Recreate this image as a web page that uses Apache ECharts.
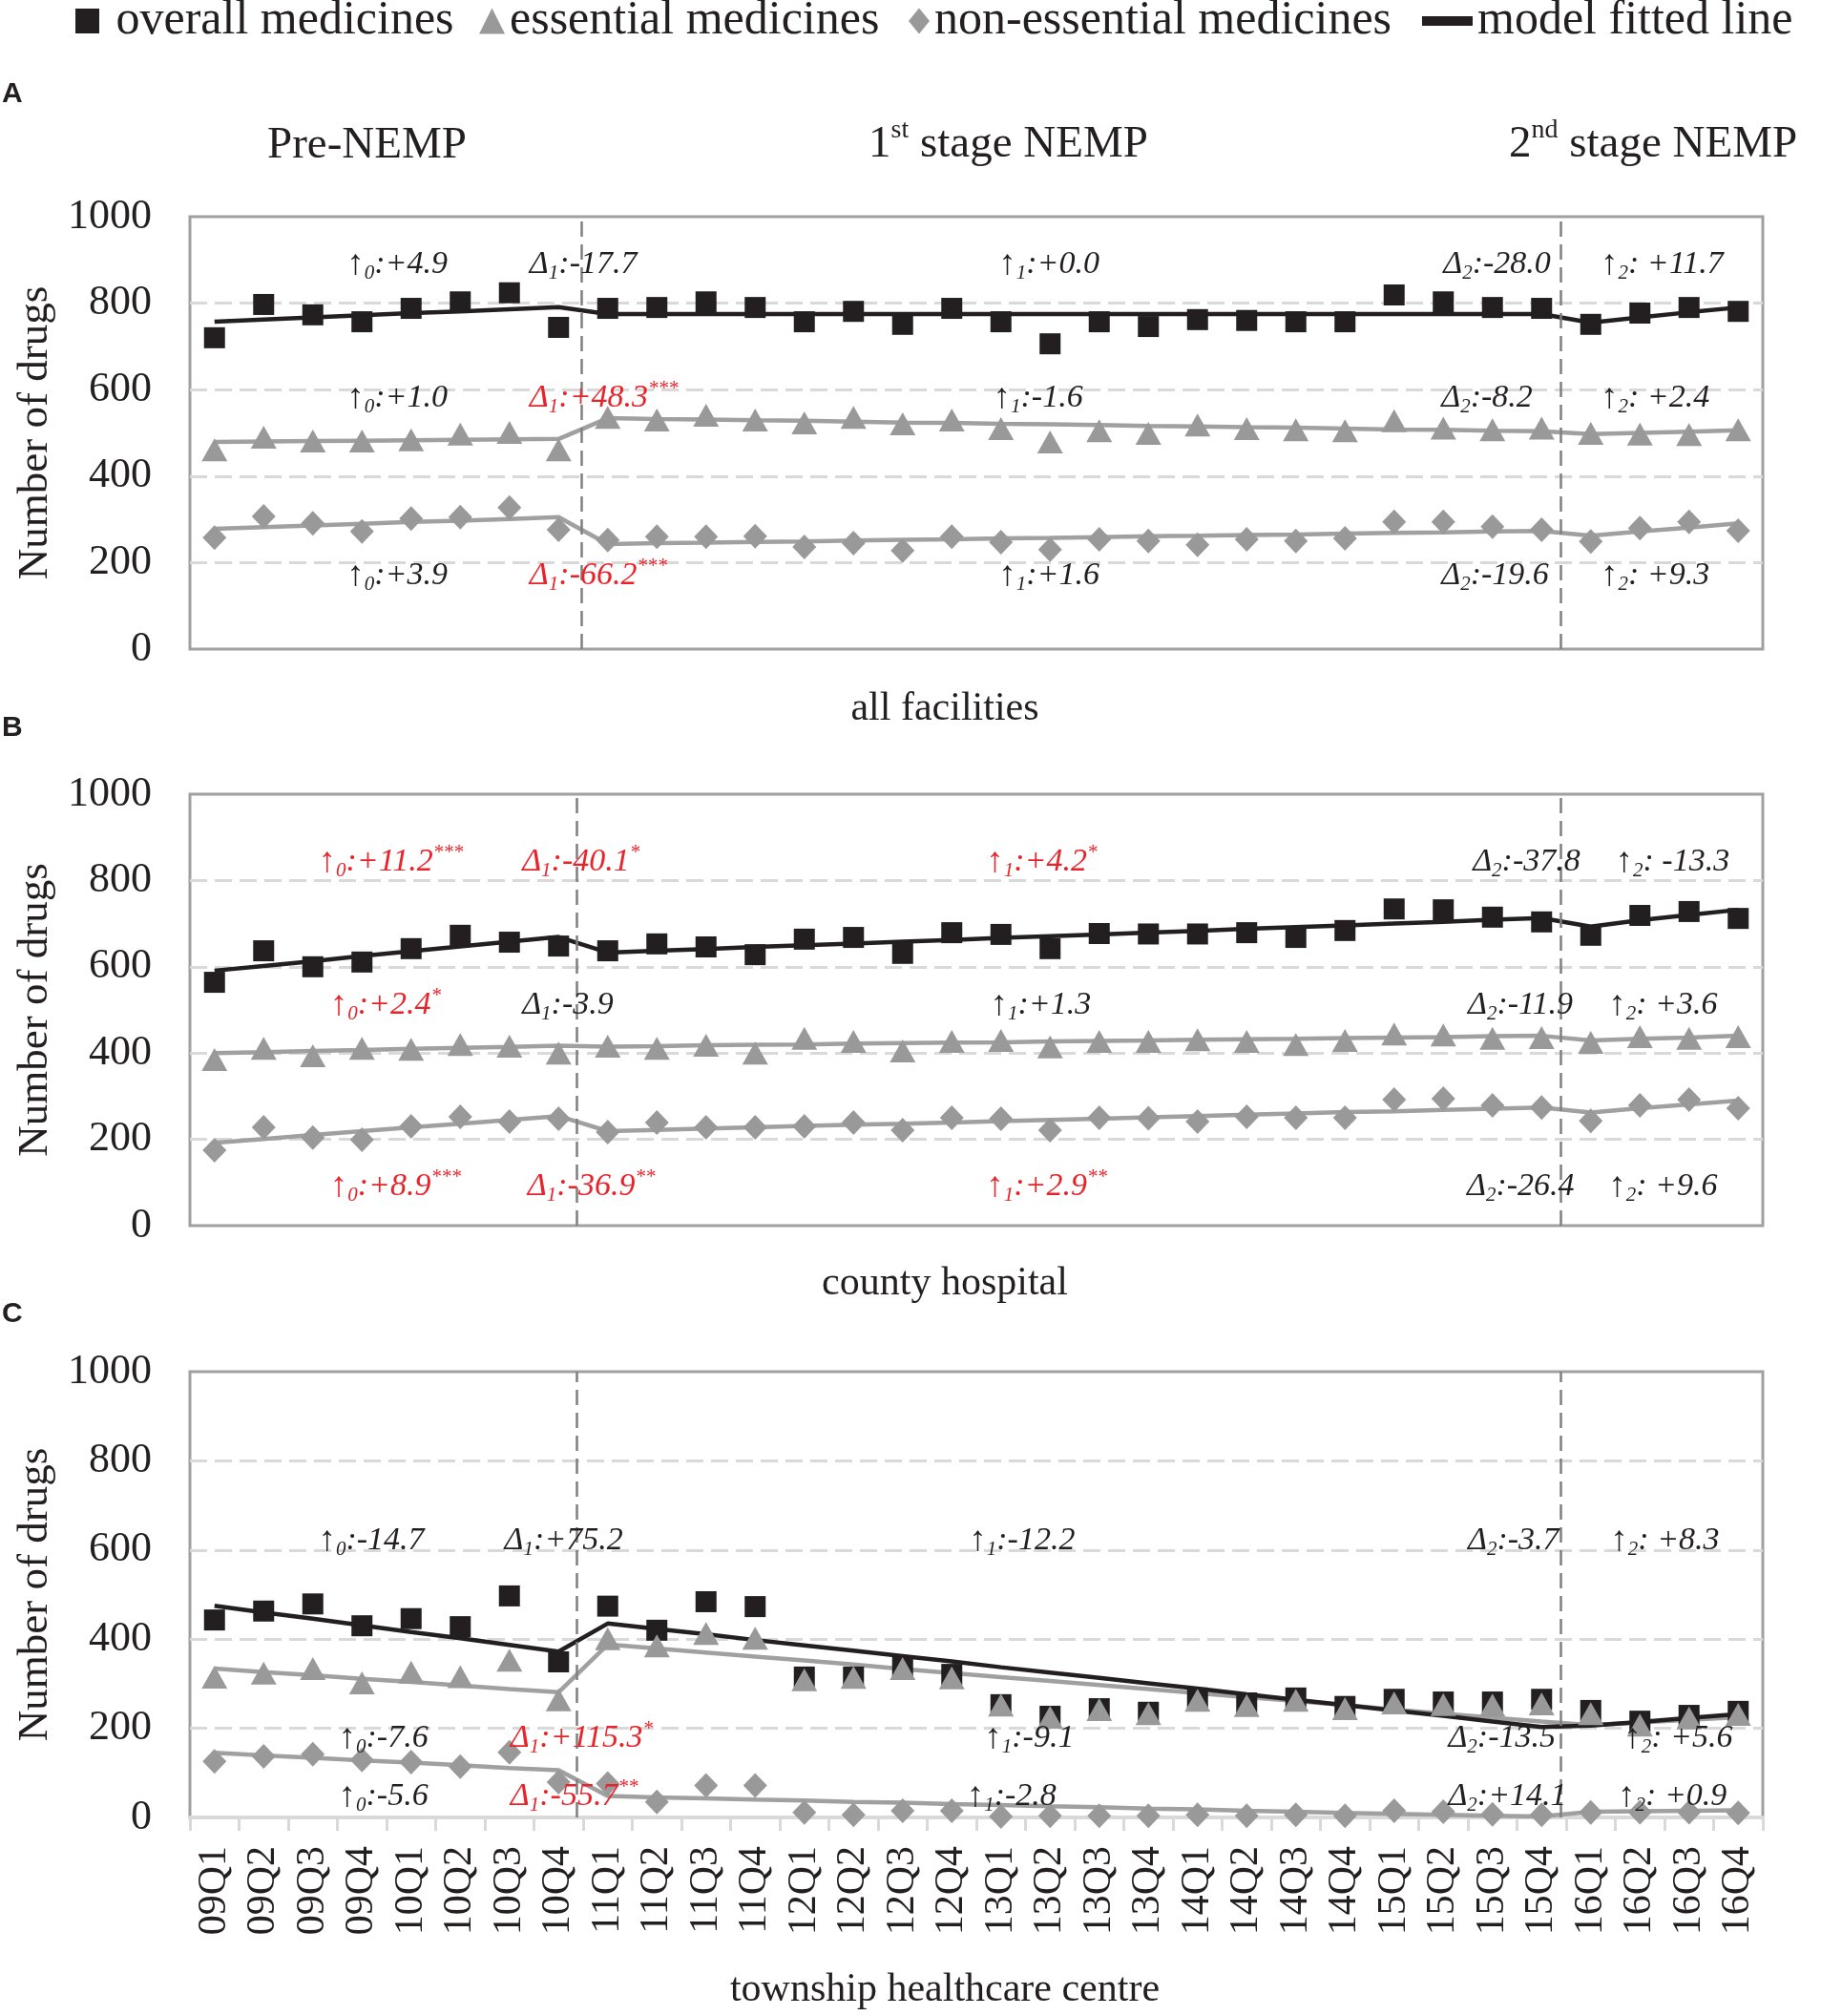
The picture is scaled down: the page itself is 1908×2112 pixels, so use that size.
<!DOCTYPE html>
<html>
<head>
<meta charset="utf-8">
<style>
html,body{margin:0;padding:0;background:#fff;}
#chart{width:1908px;height:2112px;}
</style>
<script src="https://cdn.jsdelivr.net/npm/echarts@6/dist/echarts.min.js"></script>
</head>
<body>
<div id="chart"></div>
<script>
// ---------- data ----------
const quarters = ['09Q1','09Q2','09Q3','09Q4','10Q1','10Q2','10Q3','10Q4',
  '11Q1','11Q2','11Q3','11Q4','12Q1','12Q2','12Q3','12Q4',
  '13Q1','13Q2','13Q3','13Q4','14Q1','14Q2','14Q3','14Q4',
  '15Q1','15Q2','15Q3','15Q4','16Q1','16Q2','16Q3','16Q4'];

// A: all facilities
const A_overall = [720,797,773,757,788,803,824,744, 788,790,803,790,757,781,751,788, 757,706,757,746,762,760,757,757, 819,803,790,788, 751,777,790,781];
const A_ess     = [461,490,481,481,484,497,501,461, 536,530,541,530,523,536,521,530, 510,479,505,499,518,510,507,505, 528,511,507,511, 499,497,496,507];
const A_non     = [258,307,291,272,302,305,327,276, 252,260,260,261,236,245,228,260, 247,230,254,250,241,254,250,256, 294,294,283,276, 249,280,294,274];
const A_fitO    = [757,762,767,772,777,781,786,791, 775,775,775,775,775,775,775,775,775,775,775,775,775,775,775,775,775,775,775,775, 755,767,779,790];
const A_fitE    = [479,480,481,482,483,484,485,486, 534,532,531,529,528,526,524,523,521,520,518,516,515,513,512,510,508,507,505,504, 497,500,503,506];
const A_fitN    = [278,282,286,290,294,297,301,305, 243,245,246,248,249,251,253,254,256,257,259,261,262,264,265,267,269,270,272,273, 262,272,281,291];

// B: county hospital
const B_overall = [564,637,600,611,642,673,657,648, 637,653,646,628,664,668,631,679, 675,642,677,676,676,679,668,684, 734,732,715,704, 673,719,728,712];
const B_ess     = [385,411,394,411,409,420,416,400, 416,411,418,400,434,427,405,427, 429,414,427,427,431,427,420,429, 444,442,434,436, 425,438,434,438];
const B_non     = [175,228,204,199,230,252,241,248, 217,239,228,228,230,239,221,250, 248,221,250,249,241,252,250,250, 292,294,279,274, 243,279,292,272];
const B_fitO    = [591,602,613,625,636,647,658,669, 633,637,641,646,650,654,658,662,667,671,675,679,683,688,692,696,700,704,709,713, 693,708,720,732];
const B_fitE    = [400,402,405,407,410,412,414,417, 415,416,418,419,420,422,423,424,425,427,428,429,431,432,433,435,436,437,439,440, 429,433,436,440];
const B_fitN    = [192,201,210,219,228,236,245,254, 219,222,225,228,231,234,236,239,242,245,248,251,254,257,260,263,265,268,271,274, 262,272,281,290];

// C: township healthcare centre
const C_overall = [443,463,479,430,446,428,497,349, 474,420,484,473,315,315,338,321, 253,227,244,236,268,257,268,249, 265,259,259,265, 240,216,229,238];
const C_ess     = [315,324,334,302,326,316,353,264, 401,385,413,402,309,314,334,313, 252,225,242,233,263,251,263,244, 257,253,252,255, 233,207,223,231];
const C_non     = [126,137,142,129,124,114,146,79, 76,35,72,72,11,6,15,15, 2,4,4,4,6,4,6,4, 15,13,7,6, 11,12,12,10];
const C_fitO    = [475,460,446,431,416,402,387,372, 435,423,411,398,386,374,362,350,337,325,313,301,289,276,264,252,240,228,215,203, 206,214,223,232];
const C_fitE    = [334,326,319,311,304,296,288,281, 388,379,370,361,352,343,333,324,315,306,297,288,279,270,261,252,242,233,224,215, 207,213,219,225];
const C_fitN    = [145,139,134,128,123,117,111,106, 48,45,43,40,38,35,33,30,28,25,23,20,18,15,13,10,8,6,4,2, 13,14,15,16];

const yTicks = [0,200,400,600,800,1000];
const panelTitles = ['all facilities','county hospital','township healthcare centre'];
const panelLetters = ['A','B','C'];
const legendNames = ['overall medicines','essential medicines','non-essential medicines','model fitted line'];

// period breaks (in band units from the left edge of the plot)
const breaks = [[7.96,27.88],[7.87,27.88],[7.87,27.88]];

// annotations: [x (band units), y (value), symbol, subscript, value text, significance, red]
const annA = [
  [3.19,890,'up','0',':+4.9','',0],[6.91,890,'dl','1',':-17.7','',0],[16.45,890,'up','1',':+0.0','',0],[25.5,890,'dl','2',':-28.0','',0],[28.7,890,'up','2',': +11.7','',0],
  [3.19,581,'up','0',':+1.0','',0],[6.91,581,'dl','1',':+48.3','***',1],[16.34,581,'up','1',':-1.6','',0],[25.46,581,'dl','2',':-8.2','',0],[28.7,581,'up','2',': +2.4','',0],
  [3.19,170,'up','0',':+3.9','',0],[6.91,170,'dl','1',':-66.2','***',1],[16.45,170,'up','1',':+1.6','',0],[25.46,170,'dl','2',':-19.6','',0],[28.7,170,'up','2',': +9.3','',0]
];
const annB = [
  [2.61,843,'up','0',':+11.2','***',1],[6.76,843,'dl','1',':-40.1','*',1],[16.2,843,'up','1',':+4.2','*',1],[26.1,843,'dl','2',':-37.8','',0],[29.0,843,'up','2',': -13.3','',0],
  [2.85,511,'up','0',':+2.4','*',1],[6.76,511,'dl','1',':-3.9','',0],[16.28,511,'up','1',':+1.3','',0],[26.0,511,'dl','2',':-11.9','',0],[28.86,511,'up','2',': +3.6','',0],
  [2.85,91,'up','0',':+8.9','***',1],[6.87,91,'dl','1',':-36.9','**',1],[16.2,91,'up','1',':+2.9','**',1],[25.98,91,'dl','2',':-26.4','',0],[28.86,91,'up','2',': +9.6','',0]
];
const annC = [
  [2.61,621,'up','0',':-14.7','',0],[6.4,621,'dl','1',':+75.2','',0],[15.85,621,'up','1',':-12.2','',0],[26.0,621,'dl','2',':-3.7','',0],[28.9,621,'up','2',': +8.3','',0],
  [3.02,178,'up','0',':-7.6','',0],[6.52,178,'dl','1',':+115.3','*',1],[16.16,178,'up','1',':-9.1','',0],[25.6,178,'dl','2',':-13.5','',0],[29.17,178,'up','2',': +5.6','',0],
  [3.02,47,'up','0',':-5.6','',0],[6.52,47,'dl','1',':-55.7','**',1],[15.8,47,'up','1',':-2.8','',0],[25.6,47,'dl','2',':+14.1','',0],[29.05,47,'up','2',': +0.9','',0]
];

// ---------- styling ----------
const SERIF = 'Liberation Serif';
const INK = '#231f20';
const RED = '#e8242b';
const GREY = '#999999';
const LINEGREY = '#a0a0a0';

const grids = [
  {left:199, top:227, width:1648, height:453},
  {left:199, top:832, width:1648, height:452},
  {left:199, top:1437, width:1648, height:467}
];

const panels = [
  {o:A_overall,e:A_ess,n:A_non,fo:A_fitO,fe:A_fitE,fn:A_fitN,ann:annA},
  {o:B_overall,e:B_ess,n:B_non,fo:B_fitO,fe:B_fitE,fn:B_fitN,ann:annB},
  {o:C_overall,e:C_ess,n:C_non,fo:C_fitO,fe:C_fitE,fn:C_fitN,ann:annC}
];

function richSet(color){
  const r = {};
  r.up  = {fontFamily:SERIF, fontSize:37, color:color, lineHeight:40};
  r.dl  = {fontFamily:SERIF, fontSize:34, fontStyle:'italic', color:color, lineHeight:40};
  r.sub = {fontFamily:SERIF, fontSize:21, fontStyle:'italic', color:color, lineHeight:40, verticalAlign:'bottom', padding:[14,0,0,0]};
  r.t   = {fontFamily:SERIF, fontSize:34, fontStyle:'italic', color:color, lineHeight:40};
  r.sup = {fontFamily:SERIF, fontSize:21, fontStyle:'italic', color:color, lineHeight:40, verticalAlign:'top', padding:[0,0,14,0]};
  return r;
}
const rich = {};
const rb = richSet(INK), rr = richSet(RED);
for (const k in rb){ rich[k] = rb[k]; rich[k+'R'] = rr[k]; }

function annText(a){
  const s = a[6] ? 'R' : '';
  const head = a[2] === 'up' ? '{up'+s+'|↑}' : '{dl'+s+'|Δ}';
  let t = head + '{sub'+s+'|'+a[3]+'}' + '{t'+s+'|'+a[4]+'}';
  if (a[5]) t += '{sup'+s+'|'+a[5]+'}';
  return t;
}

const xAxes = [], yAxes = [], series = [];
panels.forEach((p, i) => {
  const isC = i === 2;
  xAxes.push({
    type:'category', gridIndex:i, data:quarters, boundaryGap:true,
    axisLine:{show:isC, lineStyle:{color:'#d9d9d9', width:4}},
    axisTick:{show:isC, length:14, lineStyle:{color:'#d9d9d9', width:3}},
    axisLabel:{show:isC, rotate:90, interval:0, margin:30, fontFamily:SERIF, fontSize:42, color:INK},
    splitLine:{show:false}
  });
  yAxes.push({
    type:'value', gridIndex:i, min:yTicks[0], max:yTicks[yTicks.length-1], interval:200,
    name:'Number of drugs', nameLocation:'middle', nameRotate:90, nameGap:138,
    nameTextStyle:{fontFamily:SERIF, fontSize:45, color:INK},
    axisLine:{show:false}, axisTick:{show:false},
    axisLabel:{margin:40, fontFamily:SERIF, fontSize:44, color:INK, formatter:(v) => String(v)},
    splitLine:{show:true, showMinLine:false, showMaxLine:false, lineStyle:{color:'#d9d9d9', width:3, type:[18,8]}}
  });
});
// hidden value axes for breaks and annotations
panels.forEach((p, i) => {
  xAxes.push({type:'value', gridIndex:i, min:0, max:32, show:false});
});

panels.forEach((p, i) => {
  series.push({name:'fit-ess-'+i, type:'line', xAxisIndex:i, yAxisIndex:i, data:p.fe, showSymbol:false, symbol:'none', z:2, silent:true,
    lineStyle:{color:LINEGREY, width:4.5}, itemStyle:{color:LINEGREY}});
  series.push({name:'fit-non-'+i, type:'line', xAxisIndex:i, yAxisIndex:i, data:p.fn, showSymbol:false, symbol:'none', z:2, silent:true,
    lineStyle:{color:LINEGREY, width:4.5}, itemStyle:{color:LINEGREY}});
  series.push({name:legendNames[3], type:'line', xAxisIndex:i, yAxisIndex:i, data:p.fo, showSymbol:false, symbol:'none', z:2, silent:true,
    color:INK, lineStyle:{color:INK, width:4.5}, itemStyle:{color:INK}});
  series.push({name:legendNames[0], type:'scatter', xAxisIndex:i, yAxisIndex:i, data:p.o, symbol:'rect', symbolSize:[22,22], z:3, silent:true,
    itemStyle:{color:INK, opacity:1}});
  series.push({name:legendNames[1], type:'scatter', xAxisIndex:i, yAxisIndex:i, data:p.e, symbol:'triangle', symbolSize:[27,24], z:3, silent:true,
    itemStyle:{color:GREY, opacity:1}});
  series.push({name:legendNames[2], type:'scatter', xAxisIndex:i, yAxisIndex:i, data:p.n, symbol:'diamond', symbolSize:[25,26], z:3, silent:true,
    itemStyle:{color:GREY, opacity:1}});
  // period break lines
  series.push({name:'breaks-'+i, type:'line', xAxisIndex:3+i, yAxisIndex:i, data:[], silent:true, z:4,
    markLine:{symbol:['none','none'], silent:true, label:{show:false}, animation:false,
      lineStyle:{type:[16,8], color:'#7f7f7f', width:2.5},
      data:breaks[i].map(v => ({xAxis:v}))}});
  // annotations
  series.push({name:'ann-'+i, type:'scatter', xAxisIndex:3+i, yAxisIndex:i, symbolSize:0, silent:true, z:6,
    data:p.ann.map(a => ({value:[a[0], a[1]], label:{formatter:annText(a)}})),
    label:{show:true, position:'right', distance:0, color:INK, opacity:1, rich:rich}});
});

const legendCommon = {top:-3, padding:0, selectedMode:false, orient:'horizontal',
  textStyle:{fontFamily:SERIF, fontSize:50, color:INK, lineHeight:50}};
const legends = [
  Object.assign({}, legendCommon, {left:79, itemWidth:25, itemHeight:26, formatter:' {name}',
    data:[{name:legendNames[0], icon:'rect', itemStyle:{color:INK}}]}),
  Object.assign({}, legendCommon, {left:502, itemWidth:27, itemHeight:27,
    data:[{name:legendNames[1], icon:'triangle', itemStyle:{color:GREY}}]}),
  Object.assign({}, legendCommon, {left:952, itemWidth:22, itemHeight:27,
    data:[{name:legendNames[2], icon:'diamond', itemStyle:{color:GREY}}]}),
  Object.assign({}, legendCommon, {left:1490, itemWidth:53, itemHeight:10,
    data:[{name:legendNames[3], icon:'rect', itemStyle:{color:INK}}]})
];

const graphics = [];
const hdrRich = {n:{fontFamily:SERIF, fontSize:47, color:INK, lineHeight:52, verticalAlign:'bottom'},
                 s:{fontFamily:SERIF, fontSize:28, color:INK, lineHeight:52, verticalAlign:'top', padding:[0,0,16,0]}};
// stage headers
graphics.push({type:'text', left:280, top:129, style:{text:'{n|Pre-NEMP}', fill:INK, rich:hdrRich}});
graphics.push({type:'text', left:910, top:123, style:{text:'{n|1}{s|st}{n| stage NEMP}', fill:INK, rich:hdrRich}});
graphics.push({type:'text', left:1581, top:123, style:{text:'{n|2}{s|nd}{n| stage NEMP}', fill:INK, rich:hdrRich}});
// panel letters and subtitles
const letterY = [84, 748, 1362];
const subY = [722, 1324, 2064];
panelLetters.forEach((l, i) => {
  graphics.push({type:'text', left:2, top:letterY[i], style:{text:l, font:'bold 30px Liberation Sans', fill:INK}});
  graphics.push({type:'text', x:990, y:subY[i], style:{text:panelTitles[i], font:'42px Liberation Serif', fill:INK, align:'center', verticalAlign:'top'}});
});

const chart = echarts.init(document.getElementById('chart'), null, {renderer:'canvas'});
chart.setOption({
  animation:false,
  backgroundColor:'#ffffff',
  legend:legends,
  grid:grids.map(g => Object.assign({show:true, borderColor:'#a0a0a0', borderWidth:3, backgroundColor:'transparent', containLabel:false}, g)),
  xAxis:xAxes,
  yAxis:yAxes,
  series:series,
  graphic:graphics
});
</script>
</body>
</html>
